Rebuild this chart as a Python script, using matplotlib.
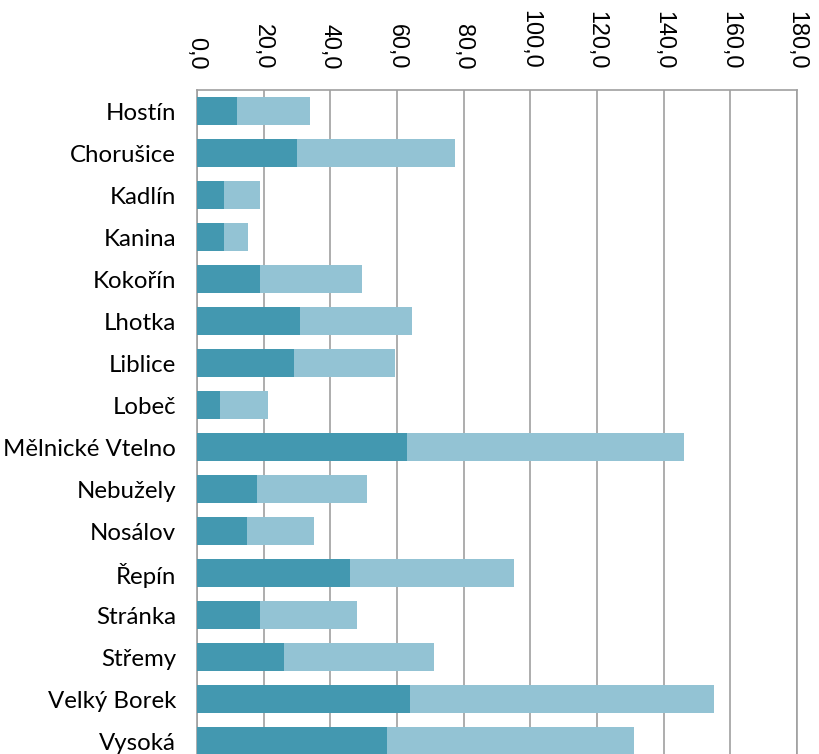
import matplotlib
matplotlib.use("Agg")
import matplotlib.pyplot as plt

# obce a hodnoty (tmavá + světlá část sloupce)
obce = ["Hostín", "Chorušice", "Kadlín", "Kanina", "Kokořín", "Lhotka",
        "Liblice", "Lobeč", "Mělnické Vtelno", "Nebužely", "Nosálov",
        "Řepín", "Stránka", "Střemy", "Velký Borek", "Vysoká"]
serie_1 = [12, 30, 8, 8, 19, 31, 29, 7, 63, 18, 15, 46, 19, 26, 64, 57]
serie_2 = [22, 47.4, 11, 7.2, 30.4, 33.4, 30.3, 14.2, 83, 33, 20, 49, 29, 45, 91, 74]
ticks = [0, 20, 40, 60, 80, 100, 120, 140, 160, 180]

fig = plt.figure(figsize=(8.2, 7.54), dpi=100)
ax = fig.add_axes([197 / 820, -8 / 754, 600 / 820, 672 / 754])

y = range(len(obce))
ax.barh(y, serie_1, height=0.667, color="#4398B0", zorder=3)
ax.barh(y, serie_2, left=serie_1, height=0.667, color="#93C3D4", zorder=3)

ax.set_ylim(len(obce) - 0.5, -0.5)
ax.set_xlim(0, 180)
ax.set_yticks(list(y))
ax.set_yticklabels(obce, fontsize=17.3, family="Lato")
ax.set_xticks(ticks)
ax.set_xticklabels([f"{t:.1f}".replace(".", ",") for t in ticks],
                   rotation=-90, fontsize=16.8, family="Liberation Sans")
ax.xaxis.tick_top()
ax.tick_params(axis="x", length=0, pad=15)
ax.tick_params(axis="y", length=0, pad=15)

ax.grid(axis="x", color="#A0A0A0", linewidth=1.2, zorder=0)
for side in ["top", "left", "right"]:
    ax.spines[side].set_color("#A0A0A0")
    ax.spines[side].set_linewidth(1.2)
ax.spines["bottom"].set_visible(False)

fig.savefig("out.png", dpi=100)
